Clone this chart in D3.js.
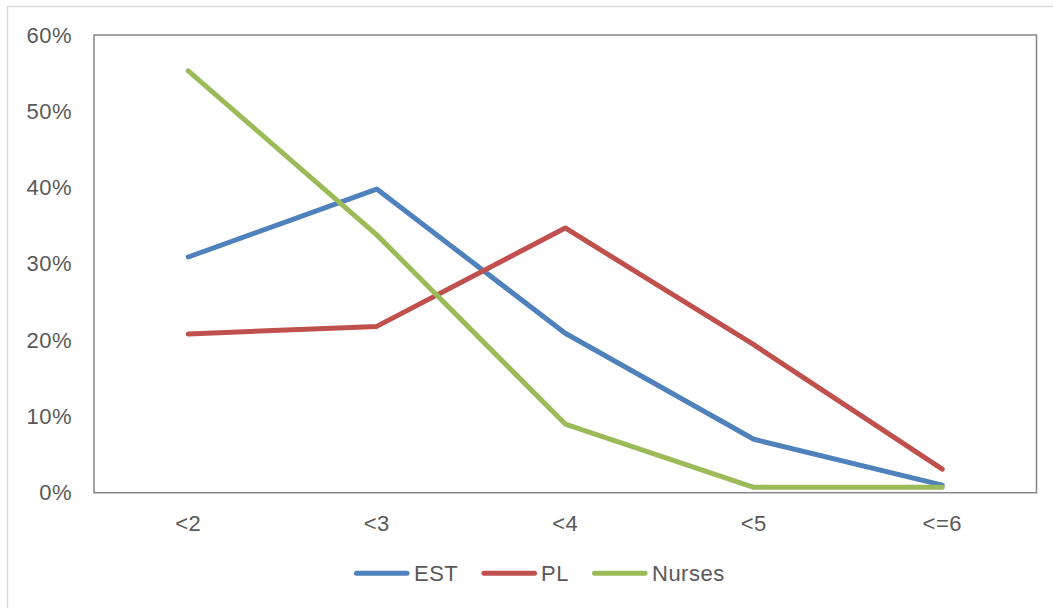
<!DOCTYPE html>
<html>
<head>
<meta charset="utf-8">
<script src="https://cdn.jsdelivr.net/npm/d3@7/dist/d3.min.js"></script>
<style>
  html, body { margin: 0; padding: 0; background: #fff; }
  svg { display: block; font-family: "Liberation Sans", Arial, sans-serif; }
  .lbl { font-size: 22px; letter-spacing: 0.5px; fill: #595959; font-family: "Liberation Sans", Arial, sans-serif; }
</style>
</head>
<body>
<svg id="chart" width="1053" height="608"></svg>
<script>
// Share of respondents per category
const categories = ["<2", "<3", "<4", "<5", "<=6"];
const estValues = [0.309, 0.398, 0.209, 0.070, 0.010];
const plValues = [0.208, 0.218, 0.347, 0.194, 0.031];
const nursesValues = [0.553, 0.338, 0.090, 0.007, 0.007];
const seriesNames = ["EST", "PL", "Nurses"];
const yTicks = [0, 0.1, 0.2, 0.3, 0.4, 0.5, 0.6];

const series = [
  { name: seriesNames[0], values: estValues, color: "#4f81bd" },
  { name: seriesNames[1], values: plValues, color: "#c0504d" },
  { name: seriesNames[2], values: nursesValues, color: "#9bbb59" }
];

const svg = d3.select("#chart");

// outer chart frame
svg.append("rect")
  .attr("x", 7.5).attr("y", 6.5)
  .attr("width", 1060).attr("height", 620)
  .attr("fill", "#fff")
  .attr("stroke", "#d9d9d9").attr("stroke-width", 1.5);

const plot = { left: 94, top: 35, right: 1036.5, bottom: 492.7 };

const x = d3.scaleBand()
  .domain(categories)
  .range([plot.left, plot.right]);

const y = d3.scaleLinear()
  .domain([0, 0.6])
  .range([plot.bottom, plot.top]);

// plot area border
svg.append("rect")
  .attr("x", plot.left).attr("y", plot.top)
  .attr("width", plot.right - plot.left)
  .attr("height", plot.bottom - plot.top)
  .attr("fill", "none")
  .attr("stroke", "#868686").attr("stroke-width", 1.5);

// y axis labels
const yAxis = d3.axisLeft(y)
  .tickValues(yTicks)
  .tickFormat(d3.format(".0%"))
  .tickSize(0)
  .tickPadding(22);
const gy = svg.append("g")
  .attr("transform", `translate(${plot.left},0)`)
  .call(yAxis);
gy.select(".domain").remove();
gy.selectAll("text").attr("class", "lbl").attr("fill", null);

// x axis labels
const xAxis = d3.axisBottom(x).tickSize(0).tickPadding(23);
const gx = svg.append("g")
  .attr("transform", `translate(0,${plot.bottom})`)
  .call(xAxis);
gx.select(".domain").remove();
gx.selectAll("text").attr("class", "lbl").attr("fill", null);

// series lines
const line = d3.line()
  .x((d, i) => x(categories[i]) + x.bandwidth() / 2)
  .y(d => y(d));

svg.append("g").selectAll("path")
  .data(series)
  .join("path")
  .attr("d", d => line(d.values))
  .attr("fill", "none")
  .attr("stroke", d => d.color)
  .attr("stroke-width", 5)
  .attr("stroke-linecap", "round")
  .attr("stroke-linejoin", "round");

// legend
const legendItems = [
  { x0: 356.5, x1: 407, tx: 414 },
  { x0: 484, x1: 534.5, tx: 541 },
  { x0: 594.5, x1: 645, tx: 652 }
];
const legendY = 573.3;
const lg = svg.append("g");
series.forEach((s, i) => {
  const p = legendItems[i];
  lg.append("line")
    .attr("x1", p.x0).attr("x2", p.x1)
    .attr("y1", legendY).attr("y2", legendY)
    .attr("stroke", s.color).attr("stroke-width", 5)
    .attr("stroke-linecap", "round");
  lg.append("text")
    .attr("class", "lbl")
    .attr("x", p.tx).attr("y", legendY)
    .attr("dy", "0.35em")
    .text(s.name);
});
</script>
</body>
</html>
